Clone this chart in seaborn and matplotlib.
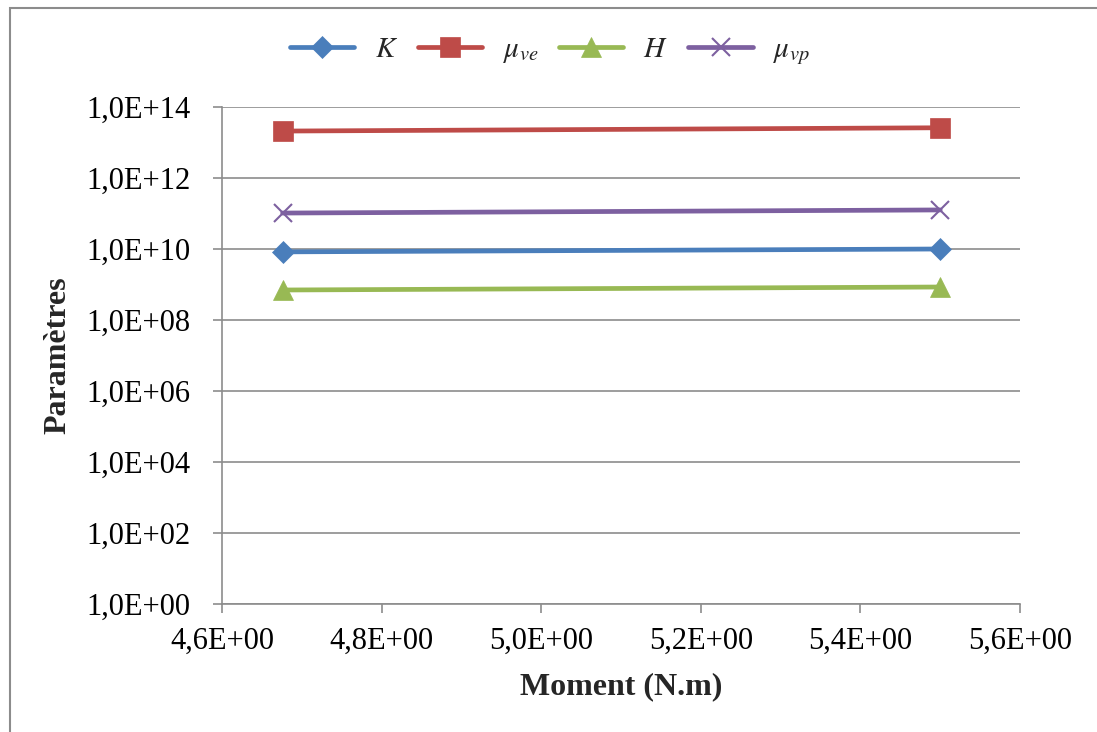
import numpy as np
import pandas as pd
import seaborn as sns
import matplotlib
matplotlib.use("Agg")
import matplotlib.pyplot as plt
from matplotlib.ticker import FuncFormatter, FixedLocator, NullLocator
from matplotlib.patches import Rectangle

moment = [4.676, 5.5]
K = [8.3e9, 1.0e10]
mu_ve = [2.1e13, 2.6e13]
H = [7.0e8, 8.5e8]
mu_vp = [1.03e11, 1.26e11]
series_names = [r"$K$", r"$\mu_{ve}$", r"$H$", r"$\mu_{vp}$"]
series_vals = [K, mu_ve, H, mu_vp]
colors = ["#4a7ebb", "#be4b48", "#98b954", "#7d60a0"]
markers = ["D", "s", "^", "x"]
msizes = [11, 14, 14, 13]

rows = []
for name, vals in zip(series_names, series_vals):
    for xv, yv in zip(moment, vals):
        rows.append({"Moment": xv, "Val": yv, "Serie": name})
df = pd.DataFrame(rows)

sns.set_style("white")
plt.rcParams["font.family"] = ["Liberation Serif", "DejaVu Serif"]
plt.rcParams["mathtext.fontset"] = "stix"

fig = plt.figure(figsize=(10.97, 7.32), dpi=100)
ax = fig.add_axes([222/1097, 1-604/732, (1020-222)/1097, (604-107)/732])

for name, c, m, ms in zip(series_names, colors, markers, msizes):
    sub = df[df["Serie"] == name]
    sns.lineplot(data=sub, x="Moment", y="Val", ax=ax, color=c, marker=m,
                 markersize=ms, linewidth=3.4, markeredgecolor=c,
                 markeredgewidth=1.5 if m == "x" else 0.5, label=name,
                 estimator=None, sort=True)

ax.set_yscale("log")
ax.set_ylim(1, 1e14)
ax.set_xlim(4.6, 5.6)
yt = [10.0**k for k in range(0, 15, 2)]
ax.yaxis.set_major_locator(FixedLocator(yt))
ax.yaxis.set_minor_locator(NullLocator())
ax.yaxis.set_major_formatter(FuncFormatter(lambda v, p: "1,0E+%02d" % int(round(np.log10(v)))))
xt = [4.6, 4.8, 5.0, 5.2, 5.4, 5.6]
ax.xaxis.set_major_locator(FixedLocator(xt))
ax.xaxis.set_major_formatter(FuncFormatter(lambda v, p: ("%.1fE+00" % v).replace(".", ",")))

ax.grid(axis="y", color="#8c8c8c", linewidth=1.2)
ax.grid(axis="x", visible=False)
for s in ["top", "right"]:
    ax.spines[s].set_visible(False)
for s in ["left", "bottom"]:
    ax.spines[s].set_color("#8c8c8c")
    ax.spines[s].set_linewidth(1.2)
ax.tick_params(axis="both", which="major", direction="out", length=6.5, width=1.2,
               color="#8c8c8c", labelsize=22, labelcolor="black", left=True, bottom=True)
ax.tick_params(axis="y", pad=16)
ax.tick_params(axis="x", pad=10)
ax.set_xlabel("Moment (N.m)", fontsize=23, fontweight="bold", labelpad=12)
ax.set_ylabel("Paramètres", fontsize=23, fontweight="bold", labelpad=10)

leg = ax.legend(loc="center", bbox_to_anchor=(550/1097, 1-52/732), bbox_transform=fig.transFigure,
                ncol=4, frameon=False, fontsize=21, handlelength=2.2, columnspacing=0.7,
                handletextpad=0.7)

fig.add_artist(Rectangle((10/1097, -0.1), 1.2, 1.1 - 8/732, transform=fig.transFigure,
                         fill=False, edgecolor="#8c8c8c", linewidth=1.5, clip_on=False))

fig.savefig("out.png", dpi=100)
